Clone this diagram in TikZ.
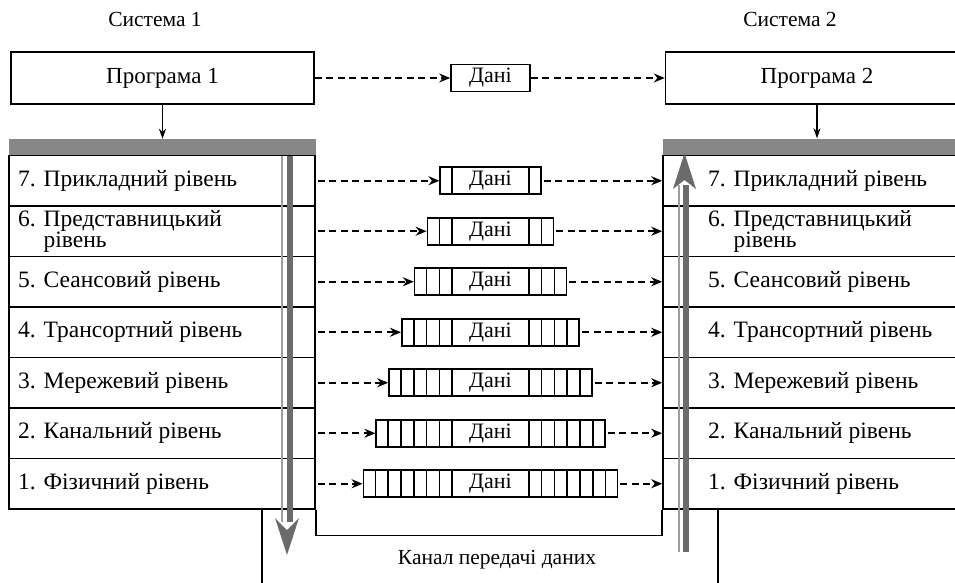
\documentclass[tikz,border=0pt]{standalone}
\usepackage{fontspec}
\setmainfont{Liberation Serif}
\usetikzlibrary{arrows.meta}
\newlength{\du}
\setlength{\du}{1\unitlength}
\definecolor{barcolor}{rgb}{0.530000, 0.530000, 0.530000}
\definecolor{flowdark}{rgb}{0.420000, 0.420000, 0.420000}
\definecolor{flowlight}{rgb}{0.620000, 0.620000, 0.620000}
\tikzset{
  every node/.style={font=\fontsize{22}{22}\selectfont},
  layerbox/.style={draw, line width=1.6\du, minimum width=306\du, minimum height=50.5\du, inner sep=0pt},
  layertext/.style={anchor=west, inner sep=0pt, align=left, font=\fontsize{23.5}{21.5}\selectfont},
  progbox/.style={draw, line width=1.4\du, minimum width=303\du, minimum height=52\du, inner sep=0pt, font=\fontsize{23}{23}\selectfont},
  headbar/.style={fill=barcolor, minimum height=17\du, inner sep=0pt},
  packet/.style={draw, line width=1.6\du, minimum height=27\du, inner sep=0pt},
  dataflow/.style={line width=1.6\du, dash pattern=on 7pt off 4.5pt, -{Stealth[length=11pt,width=9pt]}},
  downflow/.style={line width=1.2\du, -{Stealth[length=10pt,width=7pt]}},
}
\begin{document}
\begin{tikzpicture}
\pgftransformxscale{1.000000}
\pgftransformyscale{-1.000000}
\useasboundingbox (0\du,0\du) rectangle (955\du,583\du);
\clip (0\du,0\du) rectangle (955\du,583\du);
% systems and programs
\node[font=\fontsize{21.5}{21.5}\selectfont] (sys1) at (155.000000\du,19.000000\du) {Система 1};
\node[font=\fontsize{21.5}{21.5}\selectfont] (sys2) at (790.000000\du,19.000000\du) {Система 2};
\node[progbox] (prog1) at (162.500000\du,78.000000\du) {Програма 1};
\node[progbox] (prog2) at (817.000000\du,78.000000\du) {Програма 2};
\node[packet, minimum width=79\du] (data0) at (490.500000\du,78.000000\du) {Дані};
\draw[dataflow] (prog1) -- (data0);
\draw[dataflow] (data0) -- (prog2);
% grey bars
\node[headbar, minimum width=307\du] (bar1) at (162.500000\du,147.500000\du) {};
\node[headbar, minimum width=308\du] (bar2) at (817.000000\du,147.000000\du) {};
\draw[downflow] (prog1) -- (bar1);
\draw[downflow] (prog2) -- (bar2);
% layers
\foreach \n/\y/\txt in {7/180.75/{7. Прикладний рівень},
  6/231.25/{6. Представницький\\\phantom{6. }рівень},
  5/281.75/{5. Сеансовий рівень},
  4/332.25/{4. Трансортний рівень},
  3/382.75/{3. Мережевий рівень},
  2/433.25/{2. Канальний рівень},
  1/483.75/{1. Фізичний рівень}}{
  \node[layerbox] (L\n) at (162\du,\y\du) {};
  \node[layerbox] (R\n) at (816\du,\y\du) {};
  \node[layertext] (LT\n) at (18\du,\y\du) {\txt};
  \node[layertext] (RT\n) at (708\du,\y\du) {\txt};
}
% packets with headers
\foreach \n in {1,...,7}{
  \pgfmathtruncatemacro{\hdr}{8-\n}
  \pgfmathsetlengthmacro{\pw}{(75+2*\hdr*12.8)*\du}
  \node[packet, minimum width=\pw] (P\n) at (L\n.east -| data0) {Дані};
  \foreach \k in {1,...,\hdr}{
    \draw[line width=1.6\du] ([xshift={\k*12.8*\du}]P\n.north west) -- ([xshift={\k*12.8*\du}]P\n.south west);
    \draw[line width=1.6\du] ([xshift={-\k*12.8*\du}]P\n.north east) -- ([xshift={-\k*12.8*\du}]P\n.south east);
  }
  \draw[dataflow, shorten <=2pt] (L\n) -- (P\n);
  \draw[dataflow, shorten <=2pt] (P\n) -- (R\n);
}
% channel
\draw[line width=1.6\du] (L1.south east) -- ++(0\du,25.5\du) -| (R1.south west);
\coordinate (linkL) at (262\du,583\du);
\coordinate (linkR) at (718\du,583\du);
\draw[line width=1.4\du] (L1.south -| linkL) -- (linkL);
\draw[line width=1.4\du] (R1.south -| linkR) -- (linkR);
\node[font=\fontsize{21.5}{21.5}\selectfont] (chan) at (497\du,560\du) {Канал передачі даних};
% grey flow arrows
\draw[flowlight, line width=2\du] (282\du,156\du) -- (282\du,522\du);
\draw[flowdark, line width=6\du] (289.5\du,156\du) -- (289.5\du,522\du);
\fill[flowdark] (275\du,518\du) -- (287\du,555\du) -- (299\du,518\du) -- (287\du,530\du) -- cycle;
\draw[flowlight, line width=2\du] (679\du,552\du) -- (679\du,185\du);
\draw[flowdark, line width=5.5\du] (686\du,552\du) -- (686\du,185\du);
\fill[flowdark] (673\du,189\du) -- (684.5\du,153\du) -- (696\du,189\du) -- (684.5\du,180\du) -- cycle;
\end{tikzpicture}
\end{document}
